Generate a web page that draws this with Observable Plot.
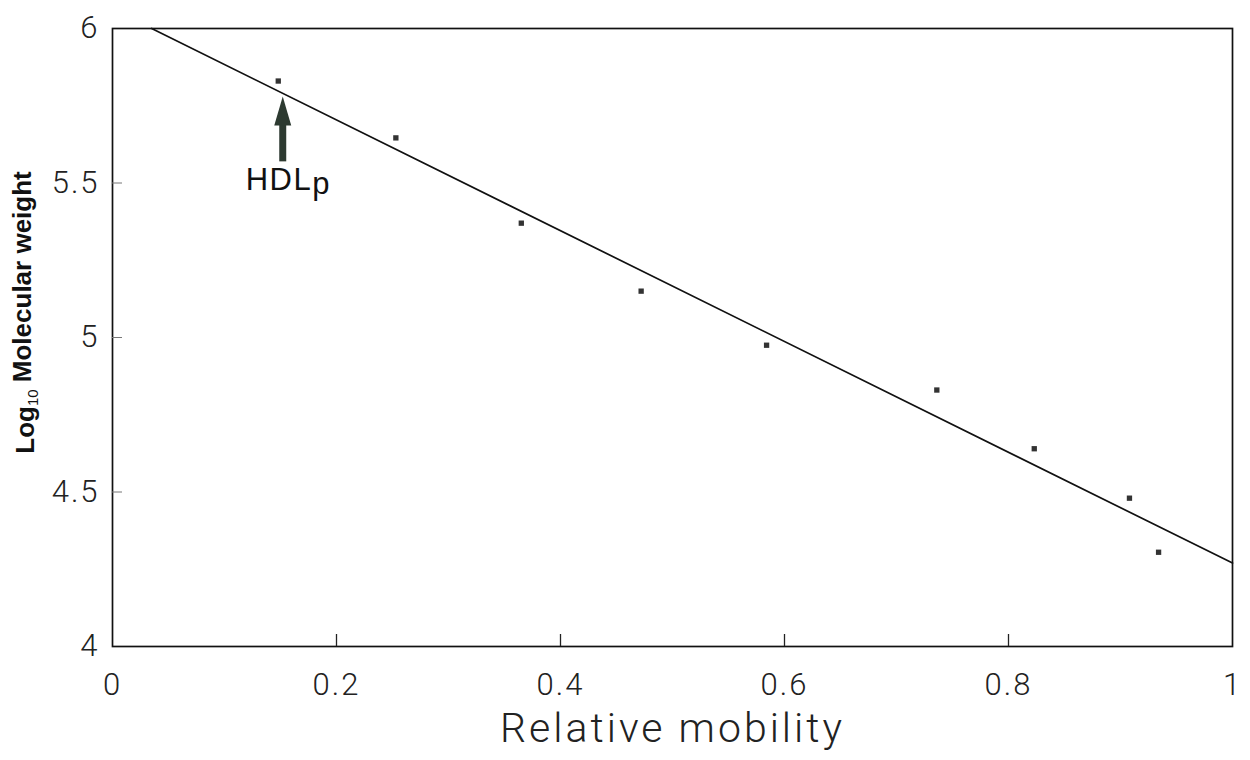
<!DOCTYPE html>
<html><head><meta charset="utf-8">
<script src="https://cdn.jsdelivr.net/npm/d3@7"></script>
<script src="https://cdn.jsdelivr.net/npm/@observablehq/plot@0.6"></script>
<style>body{margin:0;background:#fff;} svg{display:block;}</style>
</head><body><div id="chart"></div>
<script>
// Data points (relative mobility vs log10 molecular weight)
const mobility = [0.148, 0.253, 0.365, 0.472, 0.584, 0.736, 0.823, 0.908, 0.934];
const logMW = [5.83, 5.646, 5.37, 5.15, 4.975, 4.83, 4.64, 4.48, 4.305];
// Fitted line end points
const fitX = [0.035, 1];
const fitY = [6, 4.27];
// Ticks
const xTicks = [0, 0.2, 0.4, 0.6, 0.8, 1];
const xTickLabels = ["0", "0.2", "0.4", "0.6", "0.8", "1"];
const yTicks = [4, 4.5, 5, 5.5, 6];
const yTickLabels = ["4", "4.5", "5", "5.5", "6"];
// HDLp annotation
const arrowX = [0.152];
const arrowTail = [5.57];
const arrowShaftEnd = [5.70];
const arrowTip = [5.78];
const hdlX = [0.157];
const hdlY = [5.51];

const points = mobility.map((x, i) => ({x, y: logMW[i]}));
const fit = fitX.map((x, i) => ({x, y: fitY[i]}));
const arrow = arrowX.map((x, i) => ({x, tail: arrowTail[i], shaft: arrowShaftEnd[i], tip: arrowTip[i]}));
const hdl = hdlX.map((x, i) => ({x, y: hdlY[i]}));

const headSymbol = {
  draw(ctx) {
    const w = 17, h = 29;
    ctx.moveTo(0, 0);
    ctx.lineTo(w / 2, h);
    ctx.lineTo(-w / 2, h);
    ctx.closePath();
  }
};

const tickFont = "Roboto, 'Liberation Sans', sans-serif";

const plot = Plot.plot({
  width: 1250,
  height: 760,
  marginLeft: 112,
  marginRight: 18,
  marginTop: 28,
  marginBottom: 114,
  style: {fontFamily: "'Liberation Sans', Arial, sans-serif", background: "#fff", color: "#111"},
  x: {domain: [0, 1], axis: null},
  y: {domain: [4, 6], axis: null},
  marks: [
    Plot.frame({stroke: "#111", strokeWidth: 1.7}),
    // inward x ticks
    Plot.ruleX(xTicks.slice(1, -1), {x: d => d, y1: () => 4, y2: () => 4, insetTop: -12, stroke: "#222", strokeWidth: 1.3}),
    // inward y ticks
    Plot.ruleY(yTicks.slice(1, -1), {y: d => d, x1: () => 0, x2: () => 0, insetRight: -10, stroke: "#777", strokeWidth: 1}),
    // x tick labels
    Plot.text(xTicks, {x: d => d, frameAnchor: "bottom", dy: 48, text: (d, i) => xTickLabels[i], fontSize: 31, fontWeight: 300, fontFamily: tickFont, fill: "#222"}),
    // y tick labels
    Plot.text(yTicks, {y: d => d, frameAnchor: "left", dx: -13, textAnchor: "end", text: (d, i) => yTickLabels[i], fontSize: 31, fontWeight: 300, fontFamily: tickFont, fill: "#222"}),
    // axis labels
    Plot.text(["Relative mobility"], {frameAnchor: "bottom", dy: 95, textAnchor: "middle", text: d => d, fontSize: 41, fontWeight: 300, fontFamily: tickFont, fill: "#222"}),
    Plot.text(["Log10 Molecular weight"], {frameAnchor: "left", dx: -87, dy: -25, rotate: -90, textAnchor: "middle", text: d => d, fontSize: 26, fontWeight: "bold", fill: "#111"}),
    // fitted line
    Plot.line(fit, {x: "x", y: "y", stroke: "#111", strokeWidth: 1.7}),
    // data points
    Plot.dot(points, {x: "x", y: "y", symbol: "square", r: 3, fill: "#333", stroke: "none"}),
    // HDLp arrow
    Plot.link(arrow, {x1: "x", x2: "x", y1: "tail", y2: "shaft", stroke: "#2d3a31", strokeWidth: 7, strokeLinecap: "butt"}),
    Plot.dot(arrow, {x: "x", y: "tip", symbol: headSymbol, fill: "#2d3a31", stroke: "none"}),
    Plot.text(hdl, {x: "x", y: "y", text: () => "HDL", fontSize: 31, fill: "#111"})
  ]
});

document.getElementById("chart").appendChild(plot);

// Subscripts and spacing
d3.select(plot).selectAll("text").each(function () {
  const t = d3.select(this);
  const s = this.textContent;
  if (s === "Log10 Molecular weight") {
    t.text(null);
    t.append("tspan").text("Log");
    t.append("tspan").attr("dy", "0.3em").attr("font-size", "15").attr("font-weight", "normal").text("10");
    t.append("tspan").attr("dy", "-0.3em").text(" Molecular weight");
  } else if (s === "HDL") {
    t.append("tspan").attr("dy", "0.12em").text("p");
    t.attr("letter-spacing", "1.5");
  } else if (s === "Relative mobility") {
    t.attr("letter-spacing", "3");
  } else if (xTickLabels.includes(s) || yTickLabels.includes(s)) {
    t.attr("letter-spacing", "2");
  }
});
</script>
</body></html>
